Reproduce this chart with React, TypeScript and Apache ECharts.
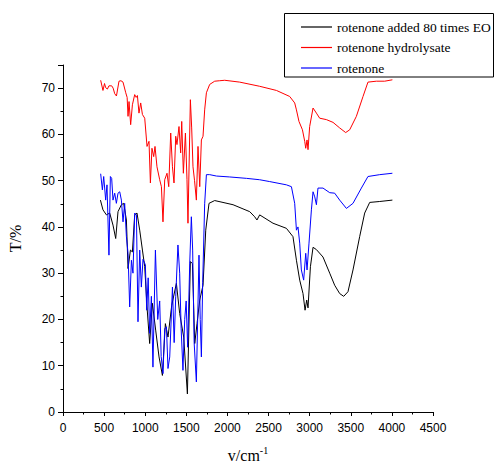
import React, { useEffect, useRef } from "react";
import * as echarts from "echarts";

const seriesNames = ["rotenone added 80 times EO", "rotenone hydrolysate", "rotenone"];
const seriesColors = ["#000000", "#ff0000", "#0000ff"];

const xTicks = [0, 500, 1000, 1500, 2000, 2500, 3000, 3500, 4000, 4500];

const blackData: [number, number][] = [
  [455, 45.8], [486, 43.7], [528, 42.6], [568, 43], [608, 40.4], [641, 37.5], [669, 43.3], [710, 44.8],
  [738, 45.1], [771, 41.5], [791, 31], [820, 35], [844, 34.6], [872, 42.6], [900, 43], [933, 39.3],
  [966, 35], [994, 31.4], [1022, 22.7], [1054, 14.8], [1087, 23.5], [1127, 17.7], [1168, 11.9],
  [1209, 7.9], [1245, 19.1], [1277, 16.2], [1322, 23], [1379, 27.8], [1419, 21.3], [1468, 16.2],
  [1513, 3.9], [1549, 32.5], [1574, 32.1], [1602, 14.8], [1630, 19.1], [1663, 24.2], [1703, 27.4],
  [1736, 39.3], [1776, 45.1], [1845, 45.7], [2068, 44.8], [2271, 43.3], [2331, 42.2], [2359, 41.5],
  [2392, 42.6], [2554, 40.8], [2717, 39.7], [2797, 37.9], [2839, 32.8], [2879, 28.5], [2919, 25.6],
  [2944, 22], [2964, 24.2], [2980, 22.5], [3009, 31.4], [3041, 35.6], [3082, 35.1], [3162, 33.5],
  [3244, 30], [3304, 27.4], [3365, 25.6], [3414, 25], [3466, 26], [3527, 30.7], [3608, 37.9],
  [3669, 43], [3730, 45.3], [3852, 45.5], [4006, 45.8],
];

const redData: [number, number][] = [
  [458, 71.7], [486, 69.5], [505, 71], [519, 70.1], [540, 69.8], [559, 70.5], [592, 70.5], [610, 70],
  [629, 68.8], [650, 68.3], [681, 71.5], [705, 71.6], [730, 71.3], [763, 69], [780, 68], [791, 63.9],
  [803, 67.1], [823, 62.1], [844, 66.4], [872, 68.6], [890, 68], [905, 68.4], [924, 64.6], [945, 66.8],
  [966, 64.3], [994, 63.5], [1022, 57.4], [1046, 58.5], [1063, 49.5], [1082, 57], [1103, 55.2],
  [1119, 57.4], [1143, 53], [1176, 50.2], [1197, 48.7], [1216, 41.1], [1237, 50.2], [1265, 51.6],
  [1286, 48.7], [1310, 60.3], [1331, 53], [1350, 49.5], [1371, 59.6], [1386, 57.8], [1411, 61.7],
  [1431, 56], [1444, 62.8], [1464, 51.6], [1489, 60.3], [1508, 50.2], [1520, 40.8], [1549, 67.5],
  [1565, 61.4], [1581, 53], [1600, 50], [1622, 45.8], [1642, 57.4], [1663, 48.7], [1683, 58.8],
  [1703, 59.6], [1723, 65.3], [1744, 69], [1784, 70.8], [1845, 71.5], [1906, 71.6], [1967, 71.7],
  [2149, 71.3], [2392, 70.4], [2596, 69.5], [2757, 68.2], [2818, 66.8], [2839, 65.3], [2870, 62.8],
  [2912, 61], [2940, 58.5], [2952, 57], [2968, 58.8], [2980, 56.7], [3000, 61.7], [3041, 65.7],
  [3082, 64.6], [3122, 63.5], [3203, 63.2], [3284, 62.6], [3365, 61.4], [3438, 60.4], [3487, 61],
  [3568, 63.9], [3649, 68.2], [3709, 71.3], [3811, 71.5], [3912, 71.5], [4006, 71.8],
];

const blueData: [number, number][] = [
  [458, 51.5], [479, 48], [495, 50.9], [519, 45.8], [535, 49.1], [559, 33.9], [576, 50.9], [592, 50.5],
  [608, 45.8], [629, 47.3], [649, 45.1], [669, 47.3], [690, 47.6], [710, 45.8], [730, 41.1], [750, 45.1],
  [771, 37.9], [791, 34.3], [811, 22.7], [832, 32.8], [851, 30], [872, 43], [893, 42.6], [912, 19.5],
  [933, 35], [953, 27], [973, 33], [1002, 31.8], [1018, 22], [1036, 29], [1054, 17], [1075, 25],
  [1094, 9.7], [1124, 35], [1152, 20], [1176, 24], [1194, 12], [1216, 8.3], [1237, 18], [1258, 18.4],
  [1277, 9.4], [1298, 11.9], [1331, 27], [1352, 15], [1371, 25], [1398, 36.1], [1419, 30], [1437, 18],
  [1459, 9], [1480, 20], [1498, 24], [1516, 14], [1541, 32], [1561, 42.2], [1577, 35], [1595, 15],
  [1622, 6.5], [1638, 20], [1654, 33.9], [1669, 20], [1683, 11.9], [1699, 28], [1723, 45], [1744, 51.3],
  [1784, 51.3], [1866, 51], [2028, 50.8], [2231, 50.5], [2392, 50.2], [2514, 49.8], [2717, 49.1],
  [2778, 48.7], [2818, 45.1], [2839, 39.3], [2858, 40], [2879, 36.5], [2899, 30.7], [2927, 28.5],
  [2952, 34.3], [2968, 30.7], [2992, 36.5], [3021, 43.7], [3041, 47.6], [3062, 46.5], [3082, 44.8],
  [3101, 48.4], [3162, 48.4], [3244, 47.4], [3304, 47.3], [3365, 45.8], [3447, 44], [3527, 45.1],
  [3629, 48.4], [3709, 50.9], [3852, 51.3], [4006, 51.6],
];

const allData = [blackData, redData, blueData];

export default function App() {
  const ref = useRef<HTMLDivElement>(null);
  useEffect(() => {
    if (!ref.current) return;
    const chart = echarts.init(ref.current, undefined, { renderer: "svg" });
    const sans = "Liberation Sans";
    const serif = "Liberation Serif";
    chart.setOption({
      animation: false,
      backgroundColor: "#ffffff",
      grid: {
        left: 63,
        right: 65,
        top: 65,
        bottom: 52,
        containLabel: false,
        outerBoundsMode: "none",
      },
      legend: {
        orient: "vertical",
        left: 301,
        top: 20,
        padding: 0,
        icon: "rect",
        itemWidth: 31,
        itemHeight: 1.2,
        itemGap: 6.5,
        textStyle: { fontFamily: serif, fontSize: 13.5, color: "#000", lineHeight: 14 },
        data: seriesNames,
      },
      graphic: [
        {
          type: "rect",
          shape: { x: 284.5, y: 13.5, width: 209, height: 63.5 },
          style: { fill: "none", stroke: "#000", lineWidth: 1 },
          z: 10,
        },
      ],
      xAxis: {
        type: "value",
        min: xTicks[0],
        max: xTicks[xTicks.length - 1],
        interval: 500,
        name: "{a|v/cm}{b|-1}",
        nameLocation: "middle",
        nameGap: 33,
        nameTextStyle: {
          rich: {
            a: { fontFamily: serif, fontSize: 16, color: "#000", lineHeight: 20 },
            b: { fontFamily: serif, fontSize: 10, color: "#000", verticalAlign: "top", lineHeight: 12 },
          },
        },
        axisLine: { show: true, lineStyle: { color: "#000", width: 1 } },
        axisTick: { show: true, length: 4, lineStyle: { color: "#000" } },
        minorTick: { show: true, splitNumber: 2, length: 2.5, lineStyle: { color: "#000" } },
        axisLabel: {
          fontFamily: sans,
          fontSize: 12,
          color: "#000",
          margin: 10,
          formatter: (v: number) => String(v),
        },
        splitLine: { show: false },
      },
      yAxis: {
        type: "value",
        min: 0,
        max: 75,
        interval: 10,
        name: "T/%",
        nameLocation: "middle",
        nameGap: 40,
        nameTextStyle: { fontFamily: serif, fontSize: 16, color: "#000" },
        axisLine: { show: true, lineStyle: { color: "#000", width: 1 } },
        axisTick: { show: true, length: 5, lineStyle: { color: "#000" } },
        minorTick: { show: true, splitNumber: 2, length: 2.5, lineStyle: { color: "#000" } },
        axisLabel: {
          fontFamily: sans,
          fontSize: 12,
          color: "#000",
          margin: 8,
          showMaxLabel: false,
          formatter: (v: number) => String(v),
        },
        splitLine: { show: false },
      },
      series: seriesNames.map((n, i) => ({
        name: n,
        type: "line",
        data: allData[i],
        symbol: "none",
        showSymbol: false,
        color: seriesColors[i],
        lineStyle: { color: seriesColors[i], width: 1 },
      })),
    });
    return () => chart.dispose();
  }, []);
  return (
    <div
      ref={ref}
      style={{ position: "fixed", left: 0, top: 0, width: 498, height: 464, background: "#fff" }}
    />
  );
}
